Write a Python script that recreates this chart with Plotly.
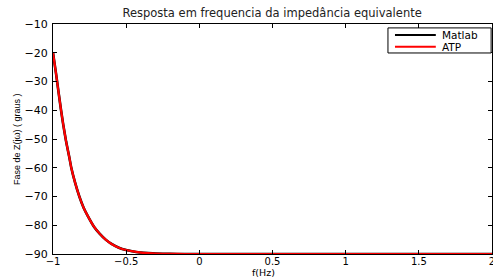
import plotly.graph_objects as go

# log10 of frequency (x axis) and phase in degrees
freq_log = [-1.00, -0.98, -0.96, -0.945, -0.93, -0.91, -0.89, -0.875, -0.85, -0.82,
            -0.79, -0.76, -0.72, -0.68, -0.64, -0.60, -0.55, -0.50, -0.45, -0.40,
            -0.35, -0.30, -0.20, -0.10, 0.0, 0.5, 1.0, 1.5, 2.0]
fase_matlab = [-20, -27, -34.5, -40, -45, -51, -56, -60, -65, -70,
               -74, -77, -80.5, -83, -85, -86.5, -87.8, -88.6, -89.1, -89.5,
               -89.7, -89.85, -89.95, -90, -90, -90, -90, -90, -90]
fase_atp = [-20, -27, -34.5, -40, -45, -51, -56, -60, -65, -70,
            -74, -77, -80.5, -83, -85, -86.5, -87.8, -88.6, -89.1, -89.5,
            -89.7, -89.85, -89.95, -90, -90, -90, -90, -90, -90]

series_names = ["Matlab", "ATP"]
series_colors = ["black", "#ff0000"]

x_ticks = [-1, -0.5, 0, 0.5, 1, 1.5, 2]
y_ticks = [-90, -80, -70, -60, -50, -40, -30, -20, -10]

fig = go.Figure()
fig.add_trace(go.Scatter(x=freq_log, y=fase_matlab, mode="lines", name=series_names[0],
                         line=dict(color=series_colors[0], width=2.6, shape="spline", smoothing=0.5)))
fig.add_trace(go.Scatter(x=freq_log, y=fase_atp, mode="lines", name=series_names[1],
                         line=dict(color=series_colors[1], width=2.2, shape="spline", smoothing=0.5)))

axis_common = dict(showline=True, linecolor="black", linewidth=1, mirror="ticks",
                   ticks="inside", ticklen=4, tickcolor="black", showgrid=False,
                   zeroline=False, automargin=False, ticklabeloverflow="allow")

# legend box drawn MATLAB-style (compact) in axis-domain coordinates
shapes = [dict(type="rect", xref="x domain", yref="y domain", x0=0.763, x1=0.998,
               y0=0.874, y1=0.983, line=dict(color="black", width=1),
               fillcolor="white", layer="above")]
annotations = []
entry_y = [0.952, 0.901]
for name, color, yy in zip(series_names, series_colors, entry_y):
    shapes.append(dict(type="line", xref="x domain", yref="y domain", x0=0.779, x1=0.872,
                       y0=yy, y1=yy, line=dict(color=color, width=2), layer="above"))
    annotations.append(dict(text=name, xref="x domain", yref="y domain", x=0.882, y=yy,
                            xanchor="left", yanchor="middle", showarrow=False,
                            font=dict(family="DejaVu Sans", size=10.5, color="black")))

annotations += [
    dict(text="f(Hz)", xref="x domain", yref="y domain", x=0.48, y=-0.08,
         xanchor="center", yanchor="middle", showarrow=False,
         font=dict(family="DejaVu Sans", size=9.5, color="black")),
    dict(text="Fase de Z(jω) ( graus )", xref="x domain", yref="y domain",
         x=-0.082, y=0.5, xanchor="center", yanchor="middle", textangle=-90,
         showarrow=False, font=dict(family="Liberation Sans", size=9, color="black")),
]

fig.update_layout(
    width=493, height=277,
    margin=dict(l=53, r=1, t=24, b=23, autoexpand=False),
    paper_bgcolor="white", plot_bgcolor="white",
    title=dict(text="Resposta em frequencia da impedância equivalente",
               x=0.552, xanchor="center", y=0.952, yanchor="middle",
               font=dict(family="DejaVu Sans", size=11.5, color="#222")),
    xaxis=dict(range=[-1, 2], tickvals=x_ticks, ticklabelstandoff=-2,
               tickfont=dict(family="DejaVu Sans", size=10, color="black"), **axis_common),
    yaxis=dict(range=[-90, -10], tickvals=y_ticks, ticklabelstandoff=2,
               tickfont=dict(family="DejaVu Sans", size=11, color="black"), **axis_common),
    shapes=shapes,
    annotations=annotations,
    showlegend=False,
)

fig.write_html("out.html", config={"displayModeBar": False},
               post_script="document.body.style.margin='0';document.body.style.overflow='hidden';")
